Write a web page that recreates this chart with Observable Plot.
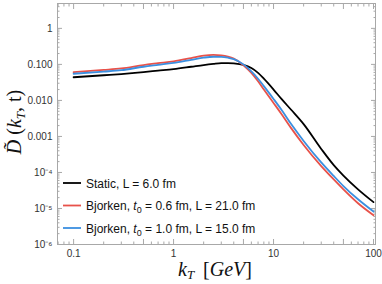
<!DOCTYPE html>
<html>
<head>
<meta charset="utf-8">
<script src="https://cdn.jsdelivr.net/npm/d3@7"></script>
<script src="https://cdn.jsdelivr.net/npm/@observablehq/plot@0.6"></script>
<style>
  html, body { margin: 0; padding: 0; background: #fff; }
  #chart svg { display: block; }
</style>
</head>
<body>
<div id="chart"></div>
<script>
const kT = [0.1, 0.2, 0.3, 0.5, 0.7, 1, 1.5, 2, 2.5, 3, 3.5, 4, 5, 6, 7, 8, 10, 12, 15, 20, 30, 40, 50, 70, 100];
const staticL6 = [0.044, 0.050, 0.054, 0.061, 0.067, 0.074, 0.086, 0.096, 0.103, 0.108, 0.109, 0.107, 0.097, 0.079, 0.058, 0.040, 0.020, 0.011, 0.0055, 0.0022, 0.00045, 0.00016, 0.000082, 0.000034, 0.000015];
const bjorken06 = [0.061, 0.070, 0.077, 0.096, 0.108, 0.122, 0.150, 0.175, 0.183, 0.177, 0.163, 0.144, 0.095, 0.058, 0.034, 0.020, 0.0085, 0.0042, 0.0017, 0.00058, 0.00015, 0.000064, 0.000034, 0.000014, 0.0000065];
const bjorken10 = [0.055, 0.063, 0.069, 0.086, 0.097, 0.110, 0.134, 0.154, 0.163, 0.162, 0.153, 0.140, 0.100, 0.064, 0.040, 0.025, 0.011, 0.0055, 0.0022, 0.00075, 0.00019, 0.000080, 0.000042, 0.000018, 0.0000082];

const seriesNames = ["Static", "Bjorken06", "Bjorken10"];
const seriesColors = ["#000000", "#e8524a", "#3b8fe0"];

const xMajor = [0.1, 0.5, 1, 5, 10, 50, 100];
const xMajorLabels = ["0.1", "0.5", "1", "5", "10", "50", "100"];
const xMinor = [0.07, 0.08, 0.09, 0.2, 0.3, 0.4, 0.6, 0.7, 0.8, 0.9, 2, 3, 4, 6, 7, 8, 9, 20, 30, 40, 60, 70, 80, 90];
const yMajor = [1e-6, 1e-5, 1e-4, 1e-3, 1e-2, 1e-1, 1];
const yMajorLabels = ["10\u207B\u2076", "10\u207B\u2075", "10\u207B\u2074", "0.001", "0.010", "0.100", "1"];
const yMinor = [];
for (let e = -6; e <= 0; e++) for (let m = 2; m <= 9; m++) { const v = m * Math.pow(10, e); if (v < 4.9) yMinor.push(v); }

const rows = [];
[staticL6, bjorken06, bjorken10].forEach((arr, i) => {
  arr.forEach((v, j) => rows.push({ k: kT[j], v, s: seriesNames[i] }));
});

const W = 382, H = 284;
const frameColor = "#a8a8a8";

const plot = Plot.plot({
  width: W, height: H,
  marginLeft: 57, marginTop: 3, marginRight: 7, marginBottom: 40,
  style: { fontFamily: "'Liberation Sans', Arial, sans-serif", fontSize: "10px", color: "#333", background: "#fff" },
  x: { type: "log", domain: [0.069, 104.7] },
  y: { type: "log", domain: [1e-6, 4.9] },
  color: { domain: seriesNames, range: seriesColors },
  marks: [
    Plot.frame({ stroke: frameColor, strokeWidth: 1 }),
    Plot.axisX({ anchor: "bottom", ticks: xMajor, tickSize: -5, text: null, stroke: frameColor, label: null }),
    Plot.axisX({ anchor: "bottom", ticks: xMinor, tickSize: -2.5, text: null, stroke: frameColor, label: null }),
    Plot.axisX({ anchor: "top", ticks: xMajor, tickSize: -5, text: null, stroke: frameColor, label: null }),
    Plot.axisX({ anchor: "top", ticks: xMinor, tickSize: -2.5, text: null, stroke: frameColor, label: null }),
    Plot.axisY({ anchor: "left", ticks: yMajor, tickSize: -5, text: null, stroke: frameColor, label: null }),
    Plot.axisY({ anchor: "left", ticks: yMinor, tickSize: -2.5, text: null, stroke: frameColor, label: null }),
    Plot.axisY({ anchor: "right", ticks: yMajor, tickSize: -5, text: null, stroke: frameColor, label: null }),
    Plot.axisY({ anchor: "right", ticks: yMinor, tickSize: -2.5, text: null, stroke: frameColor, label: null }),
    Plot.axisX({ anchor: "bottom", ticks: xMajor, tickSize: 0, tickPadding: 5, tickFormat: (d) => xMajorLabels[xMajor.indexOf(d)], label: null, fill: "#333" }),
    Plot.axisY({ anchor: "left", ticks: yMajor, tickSize: 0, tickPadding: 5, tickFormat: (d) => yMajorLabels[yMajor.indexOf(d)], label: null, fill: "#333" }),
    Plot.line(rows, { x: "k", y: "v", z: "s", stroke: "s", strokeWidth: 1.8, curve: "monotone-x" })
  ]
});

const svg = d3.select(plot);
const xt = svg.append("text")
  .attr("x", 215).attr("y", 276)
  .attr("text-anchor", "middle")
  .attr("font-family", "'Liberation Serif', 'Times New Roman', serif")
  .attr("font-size", 20).attr("fill", "#111");
xt.append("tspan").attr("font-style", "italic").text("k");
xt.append("tspan").attr("font-style", "italic").attr("font-size", 13).attr("dy", 3).text("T");
xt.append("tspan").attr("dy", -3).text("\u2009 [");
xt.append("tspan").attr("font-style", "italic").text("GeV");
xt.append("tspan").text("]");

const yt = svg.append("text")
  .attr("transform", "translate(21,122) rotate(-90)")
  .attr("text-anchor", "middle")
  .attr("font-family", "'Liberation Serif', 'Times New Roman', serif")
  .attr("font-size", 20).attr("fill", "#111");
yt.append("tspan").attr("font-style", "italic").text("D\u0303");
yt.append("tspan").text(" (");
yt.append("tspan").attr("font-style", "italic").text("k");
yt.append("tspan").attr("font-style", "italic").attr("font-size", 13).attr("dy", 4).text("T");
yt.append("tspan").attr("dy", -4).text(", t)");

const legendItems = [
  { color: seriesColors[0], parts: [["Static, L = 6.0 fm"]] },
  { color: seriesColors[1], parts: [["Bjorken, "], ["t", "it"], ["0", "sub"], [" = 0.6 fm, L = 21.0 fm", "up"]] },
  { color: seriesColors[2], parts: [["Bjorken, "], ["t", "it"], ["0", "sub"], [" = 1.0 fm, L = 15.0 fm", "up"]] }
];
const lg = svg.append("g").attr("font-family", "'Liberation Sans', Arial, sans-serif").attr("font-size", 12).attr("fill", "#111").attr("text-anchor", "start");
legendItems.forEach((it, i) => {
  const y = 183 + i * 22.5;
  lg.append("line").attr("x1", 63).attr("x2", 81).attr("y1", y).attr("y2", y).attr("stroke", it.color).attr("stroke-width", 1.8);
  const t = lg.append("text").attr("x", 86).attr("y", y + 4.5).attr("text-anchor", "start");
  it.parts.forEach(([s, kind]) => {
    const ts = t.append("tspan").text(s);
    if (kind === "it") ts.attr("font-style", "italic");
    if (kind === "sub") ts.attr("font-size", 9).attr("dy", 3);
    if (kind === "up") ts.attr("dy", -3);
  });
});

document.getElementById("chart").appendChild(plot);
</script>
</body>
</html>
